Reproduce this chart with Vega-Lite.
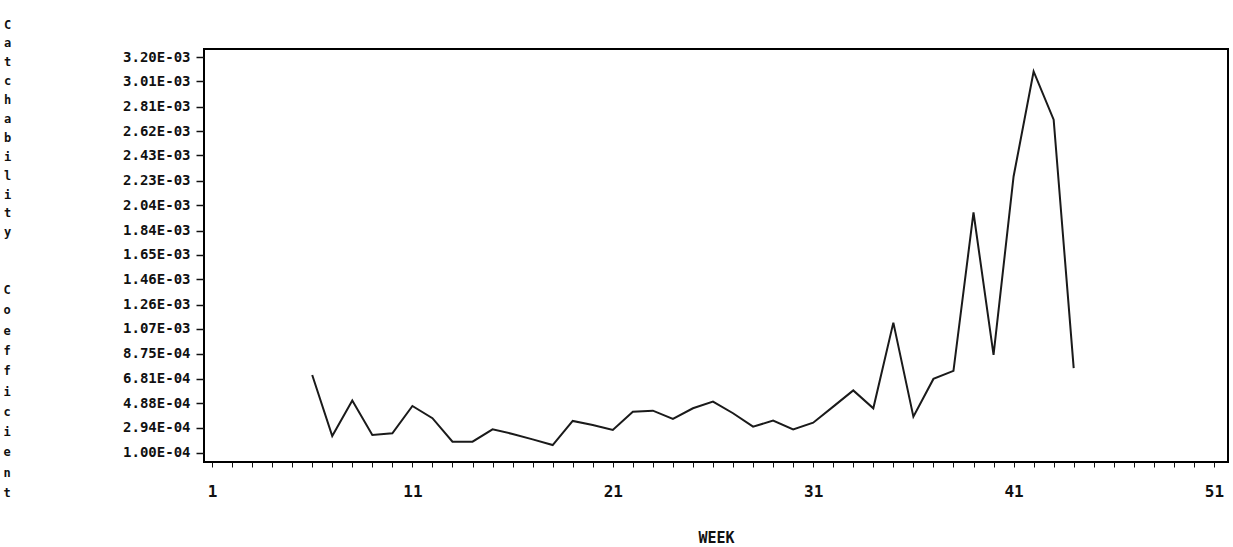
{
  "$schema": "https://vega.github.io/schema/vega-lite/v6.json",
  "autosize": "none",
  "width": 1024,
  "height": 413,
  "padding": {"left": 204, "top": 49, "right": 5, "bottom": 85},
  "background": "white",
  "title": {
    "text": ["C","o","e","f","f","i","c","i","e","n","t"],
    "orient": "top",
    "anchor": "start",
    "frame": "group",
    "angle": 0,
    "align": "center",
    "baseline": "top",
    "lineHeight": 20.3,
    "dx": -197,
    "dy": 482,
    "offset": 0,
    "font": "DejaVu Sans Mono",
    "fontSize": 12,
    "fontWeight": "bold",
    "color": "#111"
  },
  "config": {
    "view": {"stroke": "#000", "strokeWidth": 2},
    "axis": {
      "labelFont": "DejaVu Sans Mono",
      "titleFont": "DejaVu Sans Mono",
      "labelFontWeight": "bold",
      "titleFontWeight": "bold",
      "labelColor": "#111",
      "titleColor": "#111",
      "tickColor": "#111",
      "grid": false,
      "domain": false
    }
  },
  "data": {
    "values": [
      {"week": 6, "cc": 0.000709},
      {"week": 7, "cc": 0.000231},
      {"week": 8, "cc": 0.000508},
      {"week": 9, "cc": 0.000239},
      {"week": 10, "cc": 0.000252},
      {"week": 11, "cc": 0.000466},
      {"week": 12, "cc": 0.000370},
      {"week": 13, "cc": 0.000186},
      {"week": 14, "cc": 0.000186},
      {"week": 15, "cc": 0.000283},
      {"week": 16, "cc": 0.000247},
      {"week": 17, "cc": 0.000204},
      {"week": 18, "cc": 0.000160},
      {"week": 19, "cc": 0.000349},
      {"week": 20, "cc": 0.000317},
      {"week": 21, "cc": 0.000278},
      {"week": 22, "cc": 0.000421},
      {"week": 23, "cc": 0.000429},
      {"week": 24, "cc": 0.000364},
      {"week": 25, "cc": 0.000448},
      {"week": 26, "cc": 0.000500},
      {"week": 27, "cc": 0.000409},
      {"week": 28, "cc": 0.000304},
      {"week": 29, "cc": 0.000351},
      {"week": 30, "cc": 0.000283},
      {"week": 31, "cc": 0.000335},
      {"week": 32, "cc": 0.000461},
      {"week": 33, "cc": 0.000588},
      {"week": 34, "cc": 0.000448},
      {"week": 35, "cc": 0.001119},
      {"week": 36, "cc": 0.000382},
      {"week": 37, "cc": 0.000678},
      {"week": 38, "cc": 0.000741},
      {"week": 39, "cc": 0.001982},
      {"week": 40, "cc": 0.000866},
      {"week": 41, "cc": 0.002264},
      {"week": 42, "cc": 0.003087},
      {"week": 43, "cc": 0.002709},
      {"week": 44, "cc": 0.000762}
    ]
  },
  "mark": {"type": "line", "color": "#1a1a1a", "strokeWidth": 2},
  "encoding": {
    "x": {
      "field": "week",
      "type": "quantitative",
      "scale": {"domain": [0.6, 51.7], "nice": false, "zero": false},
      "axis": {
        "title": "WEEK",
        "titleFontSize": 15,
        "titlePadding": 31,
        "values": [1,2,3,4,5,6,7,8,9,10,11,12,13,14,15,16,17,18,19,20,21,22,23,24,25,26,27,28,29,30,31,32,33,34,35,36,37,38,39,40,41,42,43,44,45,46,47,48,49,50,51],
        "labelExpr": "(datum.value - 1) % 10 == 0 ? datum.label : ''",
        "labelFontSize": 16,
        "labelPadding": 16,
        "tickSize": 5,
        "tickWidth": 1,
        "labelFlush": false,
        "labelOverlap": false
      }
    },
    "y": {
      "field": "cc",
      "type": "quantitative",
      "scale": {"domain": [0.000027, 0.003263], "nice": false, "zero": false},
      "axis": {
        "title": ["C","a","t","c","h","a","b","i","l","i","t","y"],
        "titleAngle": 0,
        "titleFontSize": 12,
        "titleLineHeight": 18.9,
        "titleX": -197,
        "titleY": -30,
        "titleAlign": "center",
        "titleBaseline": "top",
        "values": [0.0001, 0.000294, 0.000488, 0.000681, 0.000875, 0.00107, 0.00126, 0.00146, 0.00165, 0.00184, 0.00204, 0.00223, 0.00243, 0.00262, 0.00281, 0.00301, 0.0032],
        "labelExpr": "upper(replace(format(datum.value, '.2e'), 'e-', 'E-0'))",
        "labelFontSize": 14,
        "labelPadding": 6,
        "tickSize": 8,
        "tickWidth": 1.5,
        "labelOverlap": false
      }
    }
  }
}
